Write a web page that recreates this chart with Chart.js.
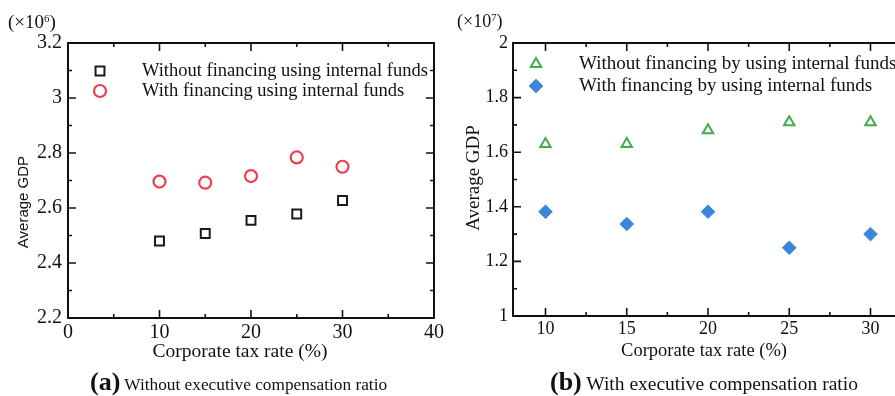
<!DOCTYPE html>
<html>
<head>
<meta charset="utf-8">
<script src="https://cdn.jsdelivr.net/npm/chart.js@4.4.0/dist/chart.umd.min.js"></script>
<style>
  html, body { margin: 0; padding: 0; background: #fff; overflow: hidden; }
  body { width: 895px; height: 396px; position: relative; font-family: "Liberation Serif", serif; color: #111; }
  canvas { position: absolute; top: 0; }
  #chartA { left: 0; }
  #chartB { left: 448px; }
  .lbl { position: absolute; white-space: nowrap; line-height: 1; }
  .mult sup { font-size: 0.58em; position: relative; top: -0.55em; vertical-align: baseline; line-height: 0; }
  .ytitle { transform: translate(-50%, -50%) rotate(-90deg); }
  .xtitle { transform: translate(-50%, -50%); }
  .cap { transform: translateY(-50%); }
  .cap b { font-size: 26px; }
</style>
</head>
<body>
<canvas id="chartA" width="447" height="396"></canvas>
<canvas id="chartB" width="470" height="396"></canvas>

<div class="lbl mult" style="left:8px; top:12px; font-size:19px;">(×10<sup>6</sup>)</div>
<div class="lbl ytitle" style="left:22px; top:202px; font-family:'Liberation Sans', sans-serif; font-size:15px;">Average GDP</div>
<div class="lbl xtitle" style="left:240px; top:351px; font-size:19.5px;">Corporate tax rate (%)</div>
<div class="lbl cap" style="left:90px; top:382px; font-size:17.3px;"><b>(a)</b> Without executive compensation ratio</div>

<div class="lbl mult" style="left:457px; top:12px; font-size:18px;">(×10<sup>7</sup>)</div>
<div class="lbl ytitle" style="left:472px; top:178px; font-size:19px;">Average GDP</div>
<div class="lbl xtitle" style="left:704px; top:350px; font-size:18.5px;">Corporate tax rate (%)</div>
<div class="lbl cap" style="left:550px; top:382px; font-size:19.5px;"><b>(b)</b> With executive compensation ratio</div>

<script>
// 법인세율 (%)
const taxRates = [10, 15, 20, 25, 30];

// (a) 평균 GDP, 단위 ×10^6
const gdpWithoutA = [2.48, 2.507, 2.555, 2.578, 2.627];
const gdpWithA = [2.696, 2.692, 2.716, 2.784, 2.75];

// (b) 평균 GDP, 단위 ×10^7
const gdpWithoutB = [1.63, 1.63, 1.68, 1.71, 1.71];
const gdpWithB = [1.382, 1.337, 1.382, 1.25, 1.30];

// 눈금
const xMajorA = [0, 10, 20, 30, 40];
const xMinorA = [5, 15, 25, 35];
const yMajorA = [2.2, 2.4, 2.6, 2.8, 3.0, 3.2];
const yMinorA = [2.3, 2.5, 2.7, 2.9, 3.1];

const xMajorB = [10, 15, 20, 25, 30];
const xMinorB = [12.5, 17.5, 22.5, 27.5];
const yMajorB = [1.0, 1.2, 1.4, 1.6, 1.8, 2.0];
const yMinorB = [1.1, 1.3, 1.5, 1.7, 1.9];

const labelsA = ['Without financing using internal funds', 'With financing using internal funds'];
const labelsB = ['Without financing by using internal funds', 'With financing by using internal funds'];

function toPoints(values) {
    return taxRates.map((x, i) => ({ x: x, y: values[i] }));
}

// 테두리와 안쪽 눈금
const frameTicks = {
    id: 'frameTicks',
    afterDraw(chart, args, opts) {
        const ctx = chart.ctx;
        const a = chart.chartArea;
        const x = chart.scales.x;
        const y = chart.scales.y;
        ctx.save();
        ctx.strokeStyle = '#111';
        ctx.lineWidth = 1.6;
        ctx.beginPath();
        const xt = (vals, len) => vals.forEach(v => {
            const p = x.getPixelForValue(v);
            ctx.moveTo(p, a.bottom); ctx.lineTo(p, a.bottom - len);
            ctx.moveTo(p, a.top); ctx.lineTo(p, a.top + len);
        });
        const yt = (vals, len) => vals.forEach(v => {
            const p = y.getPixelForValue(v);
            ctx.moveTo(a.left, p); ctx.lineTo(a.left + len, p);
            ctx.moveTo(a.right, p); ctx.lineTo(a.right - len, p);
        });
        xt(opts.xMajor, 8); xt(opts.xMinor, 4);
        yt(opts.yMajor, 8); yt(opts.yMinor, 4);
        ctx.stroke();
        ctx.lineWidth = 2;
        ctx.strokeRect(a.left, a.top, a.right - a.left, a.bottom - a.top);
        ctx.restore();
    }
};

// 그림 안쪽 범례
const innerLegend = {
    id: 'innerLegend',
    afterDatasetsDraw(chart, args, opts) {
        const ctx = chart.ctx;
        const a = chart.chartArea;
        ctx.save();
        chart.data.datasets.forEach((ds, i) => {
            const mx = a.left + opts.markerX;
            const my = a.top + opts.rows[i];
            ctx.strokeStyle = ds.borderColor;
            ctx.fillStyle = ds.backgroundColor;
            ctx.lineWidth = ds.borderWidth;
            Chart.helpers.drawPoint(ctx, { pointStyle: ds.pointStyle, radius: ds.pointRadius, borderWidth: ds.borderWidth, rotation: 0 }, mx, my);
            ctx.fillStyle = '#111';
            ctx.font = opts.font;
            ctx.textBaseline = 'middle';
            ctx.fillText(ds.label, a.left + opts.textX, my);
        });
        ctx.restore();
    }
};

function makeScale(min, max, majors, pos, fitSize, pad, fontSize) {
    return {
        type: 'linear',
        position: pos,
        min: min,
        max: max,
        grid: { display: false, drawTicks: false },
        border: { display: false },
        ticks: {
            autoSkip: false,
            maxRotation: 0,
            padding: pad,
            color: '#111',
            font: { family: 'Liberation Serif', size: fontSize },
            callback: v => Number(v.toFixed(1)).toString()
        },
        afterBuildTicks: s => { s.ticks = majors.map(v => ({ value: v })); },
        afterFit: s => {
            if (pos === 'left') s.width = fitSize; else s.height = fitSize;
        }
    };
}

function baseOptions(padRight, scales, frame, legend) {
    return {
        responsive: false,
        animation: false,
        layout: { padding: { left: 0, right: padRight, top: 43, bottom: 0 } },
        plugins: {
            legend: { display: false },
            tooltip: { enabled: false },
            frameTicks: frame,
            innerLegend: legend
        },
        scales: scales
    };
}

new Chart(document.getElementById('chartA'), {
    type: 'scatter',
    data: {
        datasets: [{
            label: labelsA[0],
            data: toPoints(gdpWithoutA),
            pointStyle: 'rect',
            pointRadius: 6.3,
            borderWidth: 2,
            borderColor: '#1a1a1a',
            backgroundColor: 'rgba(0,0,0,0)'
        }, {
            label: labelsA[1],
            data: toPoints(gdpWithA),
            pointStyle: 'circle',
            pointRadius: 6,
            borderWidth: 2.2,
            borderColor: '#ec3f4c',
            backgroundColor: 'rgba(0,0,0,0)'
        }]
    },
    options: baseOptions(12, {
        x: makeScale(0, 40, xMajorA, 'bottom', 78, 3, 20),
        y: makeScale(2.2, 3.2, yMajorA, 'left', 68, 6, 20)
    }, { xMajor: xMajorA, xMinor: xMinorA, yMajor: yMajorA, yMinor: yMinorA },
       { markerX: 32, textX: 74, rows: [28, 48], font: '18.5px "Liberation Serif"' }),
    plugins: [frameTicks, innerLegend]
});

new Chart(document.getElementById('chartB'), {
    type: 'scatter',
    data: {
        datasets: [{
            label: labelsB[0],
            data: toPoints(gdpWithoutB),
            pointStyle: 'triangle',
            pointRadius: 6,
            borderWidth: 2,
            borderColor: '#3fae4a',
            backgroundColor: 'rgba(0,0,0,0)'
        }, {
            label: labelsB[1],
            data: toPoints(gdpWithB),
            pointStyle: 'rectRot',
            pointRadius: 6.8,
            borderWidth: 1,
            borderColor: '#3a86db',
            backgroundColor: '#3a86db'
        }]
    },
    options: baseOptions(15, {
        x: makeScale(8, 32, xMajorB, 'bottom', 80, 2, 18),
        y: makeScale(1, 2, yMajorB, 'left', 65, 5, 18)
    }, { xMajor: xMajorB, xMinor: xMinorB, yMajor: yMajorB, yMinor: yMinorB },
       { markerX: 23, textX: 66, rows: [21, 43], font: '19px "Liberation Serif"' }),
    plugins: [frameTicks, innerLegend]
});
</script>
</body>
</html>
